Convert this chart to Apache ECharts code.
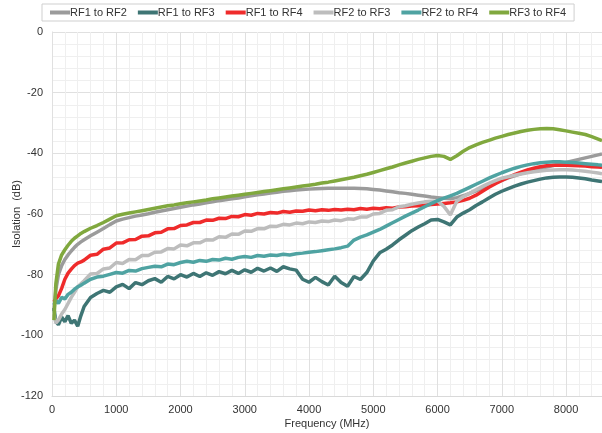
<!DOCTYPE html>
<html>
<head>
<meta charset="utf-8">
<script src="https://cdn.jsdelivr.net/npm/echarts@6/dist/echarts.min.js"></script>
<style>
html,body{margin:0;padding:0;background:#fff;}
#c{width:602px;height:433px;}
</style>
</head>
<body>
<div id="c"></div>
<script>
var freq = [30,60,100,150,200,250,300,350,400,450,
500,600,700,800,900,1000,1100,1200,1300,1400,
1500,1600,1700,1800,1900,2000,2100,2200,2300,2400,
2500,2600,2700,2800,2900,3000,3100,3200,3300,3400,
3500,3600,3700,3800,3900,4000,4100,4200,4300,4400,
4500,4600,4700,4800,4900,5000,5100,5200,5300,5400,
5500,5600,5700,5800,5900,6000,6100,6200,6300,6400,
6500,6600,6700,6800,6900,7000,7100,7200,7300,7400,
7500,7600,7700,7800,7900,8000,8100,8200,8300,8400,
8500,8560];

var rf1rf2 = [-92,-85,-80,-77,-75,-73.5,-72.2,-71,-70,-69.2,
-68.5,-67.2,-66,-64.8,-63.5,-62.3,-61.7,-61.2,-60.7,-60.3,
-59.9,-59.4,-59,-58.6,-58.2,-57.8,-57.4,-57,-56.7,-56.3,
-56,-55.6,-55.3,-55,-54.7,-54.3,-54,-53.7,-53.4,-53.1,
-52.8,-52.5,-52.3,-52.1,-51.9,-51.8,-51.7,-51.6,-51.5,-51.5,
-51.5,-51.5,-51.5,-51.6,-51.7,-51.9,-52.1,-52.4,-52.7,-53,
-53.2,-53.5,-53.8,-54.1,-54.4,-54.6,-54.8,-55,-54.6,-54,
-53.2,-52.4,-51.5,-50.6,-49.7,-48.9,-48.1,-47.4,-46.7,-46.1,
-45.5,-45,-44.5,-44,-43.5,-43,-42.5,-42,-41.5,-41,
-40.5,-40.2];

var rf1rf3 = [-91,-95.5,-96.5,-94,-95.5,-93.5,-96,-95,-97,-93.5,
-90.5,-87.5,-86.2,-85.2,-85.8,-84,-83.2,-84.6,-82.6,-83.3,
-82,-81.3,-82.5,-80.6,-81.4,-80,-80.8,-79.6,-80.6,-79.4,
-80.2,-79,-79.7,-78.6,-79.6,-78.4,-79.2,-77.9,-78.8,-77.8,
-78.9,-77.4,-78.1,-78.5,-81.5,-82.5,-80.9,-82.3,-83.4,-80.5,
-82.6,-83.8,-80.6,-81.6,-79.3,-75.5,-72.8,-71.6,-70.2,-68.5,
-67,-65.5,-64.3,-63.2,-62,-61.8,-62.6,-63.6,-61,-59.7,
-58.6,-57.2,-56,-54.7,-53.5,-52.5,-51.6,-50.8,-50.1,-49.5,
-49,-48.5,-48.1,-47.9,-47.8,-47.8,-47.9,-48.1,-48.4,-48.8,
-49.1,-49.3];

var rf1rf4 = [-89,-88,-87,-84.5,-81.5,-79.5,-78.2,-77,-76.2,-75.8,
-75.2,-73.6,-73.3,-71.6,-71.2,-69.6,-69.5,-68.5,-68.4,-67.3,
-67.2,-66.2,-66,-64.9,-64.8,-63.8,-63.6,-62.8,-62.8,-62,
-62.1,-61.4,-61.5,-60.8,-60.9,-60.2,-60.4,-59.8,-60,-59.5,
-59.7,-59.2,-59.4,-59,-59.1,-58.7,-58.9,-58.6,-58.8,-58.5,
-58.7,-58.4,-58.6,-58.2,-58.4,-58.1,-58.3,-57.9,-58.1,-57.7,
-57.6,-57.4,-57.3,-57.1,-56.9,-56.7,-56.5,-56.3,-56,-55.5,
-54.8,-53.8,-52.5,-51.2,-50,-48.9,-47.9,-47,-46.2,-45.5,
-44.9,-44.4,-44.1,-43.9,-43.9,-43.9,-44,-44.1,-44.2,-44.4,
-44.5,-44.6];

var rf2rf3 = [-93,-96,-95,-93,-91.5,-89.5,-87.5,-85.8,-84,-83,
-82,-79.8,-79.6,-78.1,-77.8,-76,-76.3,-75,-75.1,-73.7,
-73.7,-72.6,-72.5,-71.4,-71.5,-70.2,-70.5,-69.5,-69.5,-68.5,
-68.6,-67.5,-67.7,-66.6,-66.7,-65.6,-65.7,-64.8,-64.9,-64,
-64.1,-63.4,-63.6,-63,-63.2,-62.6,-62.8,-62.3,-62.5,-62,
-62.2,-61.6,-61.7,-61,-61,-60,-59.8,-58.8,-58.6,-57.6,
-57.3,-56.8,-56.4,-56,-55.8,-55.7,-57.5,-60.3,-55.8,-54.3,
-53.2,-52,-50.9,-49.9,-49,-48.2,-47.7,-47.2,-46.8,-46.4,
-46.1,-45.8,-45.6,-45.5,-45.4,-45.4,-45.5,-45.7,-45.9,-46.2,
-46.5,-46.7];

var rf2rf4 = [-90,-88.5,-89.5,-87.5,-88,-86.5,-85.8,-84.8,-84,-83.5,
-82.8,-81.5,-80.8,-80.5,-79.9,-79.3,-79.5,-78.6,-78.8,-78,
-77.6,-77.2,-77.4,-76.5,-76.7,-76,-75.6,-75.9,-75.3,-75.6,
-75,-75.2,-74.6,-74.9,-74.3,-74,-74.3,-73.7,-73.9,-73.5,
-73.7,-73.3,-73.5,-73.1,-72.9,-72.6,-72.4,-72.1,-71.8,-71.5,
-71.1,-70.6,-68.6,-67.6,-66.9,-66,-65.1,-64,-62.9,-61.8,
-60.7,-59.7,-58.7,-57.6,-56.6,-55.6,-54.8,-54,-53.2,-52.2,
-51.2,-50.2,-49.2,-48.2,-47.3,-46.4,-45.6,-44.9,-44.3,-43.8,
-43.4,-43.1,-42.9,-42.8,-42.8,-42.9,-43,-43.2,-43.4,-43.6,
-43.8,-43.9];

var rf3rf4 = [-95,-83,-76.5,-73.5,-71.8,-70.3,-69,-68,-67.2,-66.4,
-65.8,-64.7,-63.8,-62.8,-61.7,-60.6,-60.1,-59.7,-59.3,-58.9,
-58.5,-58.1,-57.7,-57.3,-57,-56.6,-56.3,-56,-55.7,-55.4,
-55,-54.7,-54.4,-54.1,-53.8,-53.5,-53.2,-52.9,-52.6,-52.3,
-52,-51.7,-51.4,-51.1,-50.8,-50.5,-50.2,-49.8,-49.5,-49.1,
-48.7,-48.3,-47.9,-47.4,-46.9,-46.3,-45.7,-45.1,-44.5,-43.8,
-43.2,-42.6,-42,-41.5,-41,-40.7,-41,-42,-40.8,-39.3,
-38.1,-37.2,-36.4,-35.7,-35,-34.4,-33.8,-33.3,-32.8,-32.4,
-32.1,-31.9,-31.8,-31.9,-32.2,-32.6,-33,-33.4,-33.8,-34.5,
-35.3,-35.8];

var seriesNames = ['RF1 to RF2','RF1 to RF3','RF1 to RF4','RF2 to RF3','RF2 to RF4','RF3 to RF4'];
var seriesValues = [rf1rf2, rf1rf3, rf1rf4, rf2rf3, rf2rf4, rf3rf4];
var seriesColors = ['#9b9b9b','#3e7574','#ef2b2b','#bdbdbd','#4fa3a2','#80a83e'];
var xTicks = {min:0, max:8560, interval:1000, minor:200};
var yTicks = {min:-120, max:0, interval:20};

var chart = echarts.init(document.getElementById('c'), null, {renderer:'canvas'});
var font = 'Liberation Sans, Arial, sans-serif';

var series = seriesNames.map(function(n,i){
  return {
    name:n, type:'line', xAxisIndex:1, yAxisIndex:0,
    showSymbol:false, symbol:'none',
    lineStyle:{width:3.5, color:seriesColors[i]},
    itemStyle:{color:seriesColors[i]},
    data: freq.map(function(f,j){ return [f, seriesValues[i][j]]; }),
    animation:false
  };
});

chart.setOption({
  animation:false,
  textStyle:{fontFamily:font},
  legend:{
    data:seriesNames, left:42, top:4,
    padding:[3,8,3,8], itemGap:11, itemWidth:20, itemHeight:4,
    icon:'rect',
    borderColor:'#cfcfcf', borderWidth:1,
    textStyle:{fontSize:11, color:'#333', fontFamily:font, padding:[0,0,0,-5]}
  },
  grid:{left:52, right:0, top:32, bottom:37, containLabel:false, outerBoundsMode:'none'},
  xAxis:[{
    type:'value', position:'bottom', min:xTicks.min, max:xTicks.max, interval:xTicks.minor,
    axisLine:{show:false}, axisTick:{show:false}, axisLabel:{show:false},
    splitLine:{show:true, lineStyle:{color:'#efefef', width:1}}, z:0
  },{
    type:'value', position:'bottom', offset:0, min:xTicks.min, max:xTicks.max, interval:xTicks.interval,
    name:'Frequency (MHz)', nameLocation:'middle', nameGap:22, nameMoveOverlap:false,
    nameTextStyle:{fontSize:11, color:'#333', fontFamily:font},
    axisLine:{show:true, lineStyle:{color:'#d9d9d9'}},
    axisTick:{show:false},
    axisLabel:{fontSize:11, color:'#333', margin:8, showMaxLabel:false, fontFamily:font,
      formatter:function(v){ return (v % 1000 === 0) ? String(v) : ''; }},
    splitLine:{show:true, lineStyle:{color:'#e0e0e0', width:1}}, z:1
  }],
  yAxis:[{
    type:'value', min:yTicks.min, max:yTicks.max, interval:yTicks.interval,
    name:'Isolation  (dB)', nameLocation:'middle', nameGap:30, nameMoveOverlap:false,
    nameTextStyle:{fontSize:11, color:'#333', fontFamily:font},
    axisLine:{show:true, lineStyle:{color:'#d9d9d9'}},
    axisTick:{show:false},
    axisLabel:{fontSize:11, color:'#333', margin:9, fontFamily:font},
    splitLine:{show:true, lineStyle:{color:'#e0e0e0', width:1}},
    minorTick:{show:false, splitNumber:5},
    minorSplitLine:{show:true, lineStyle:{color:'#efefef', width:1}}
  }],
  series:series
});
</script>
</body>
</html>
